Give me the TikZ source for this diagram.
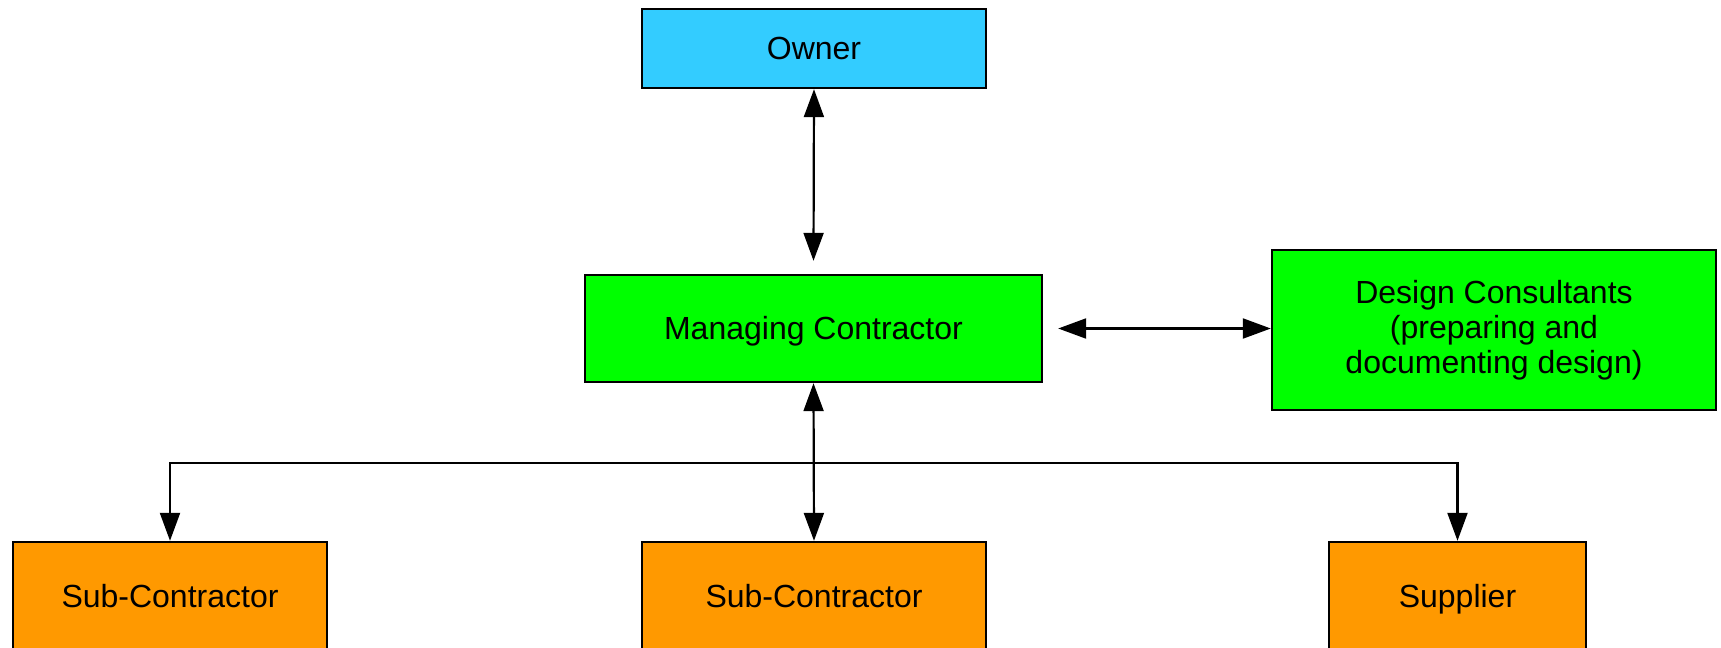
\documentclass[tikz,border=0pt]{standalone}
\usepackage{fontspec}
\setmainfont{Liberation Sans}
\usetikzlibrary{arrows.meta}
\definecolor{ownerblue}{HTML}{33CCFF}
\definecolor{mgreen}{HTML}{00FF00}
\definecolor{suborange}{HTML}{FF9900}
\begin{document}
\begin{tikzpicture}[x=0.5pt, y=-0.5pt,
  box/.style={draw=black, line width=1.2pt, rectangle, inner sep=0pt,
    align=center, font=\fontsize{16pt}{17.5pt}\selectfont},
  oneline/.style={box, text height=13.4pt, text depth=2.2pt},
  link/.style={line width=1.1pt, draw=black},
  tip/.style={-{Triangle[length=14pt, width=10pt]}},
  tips/.style={{Triangle[length=14pt, width=10pt]}-{Triangle[length=14pt, width=10pt]}}]
  \useasboundingbox (0,0) rectangle (1721,648);
  % boxes
  \node[oneline, fill=ownerblue, minimum width=172pt, minimum height=39.5pt] (owner) at (814,48.5) {Owner};
  \node[oneline, fill=mgreen, minimum width=228.5pt, minimum height=53.5pt] (mc) at (813.5,328.5) {Managing Contractor};
  \node[box, fill=mgreen, minimum width=222pt, minimum height=80pt] (dc) at (1494,330) {Design Consultants\\(preparing and\\documenting design)};
  \node[oneline, fill=suborange, minimum width=157pt, minimum height=54pt] (sub1) at (170,596) {Sub-Contractor};
  \node[oneline, fill=suborange, minimum width=172pt, minimum height=54pt] (sub2) at (814,596) {Sub-Contractor};
  \node[oneline, fill=suborange, minimum width=128.5pt, minimum height=54pt] (sup) at (1457.5,596) {Supplier};
  % connectors
  \draw[link, tips] (owner.south) -- ([yshift=6.5pt]mc.north);
  \draw[link, tips] ([xshift=7.5pt]mc.east) -- (dc.west |- mc.east);
  \draw[link, tips] (mc.south) -- (sub2.north);
  \coordinate (bus) at (814,463);
  \draw[link, tip] (bus) -| (sub1.north);
  \draw[link, tip] (bus) -| (sup.north);
\end{tikzpicture}
\end{document}
